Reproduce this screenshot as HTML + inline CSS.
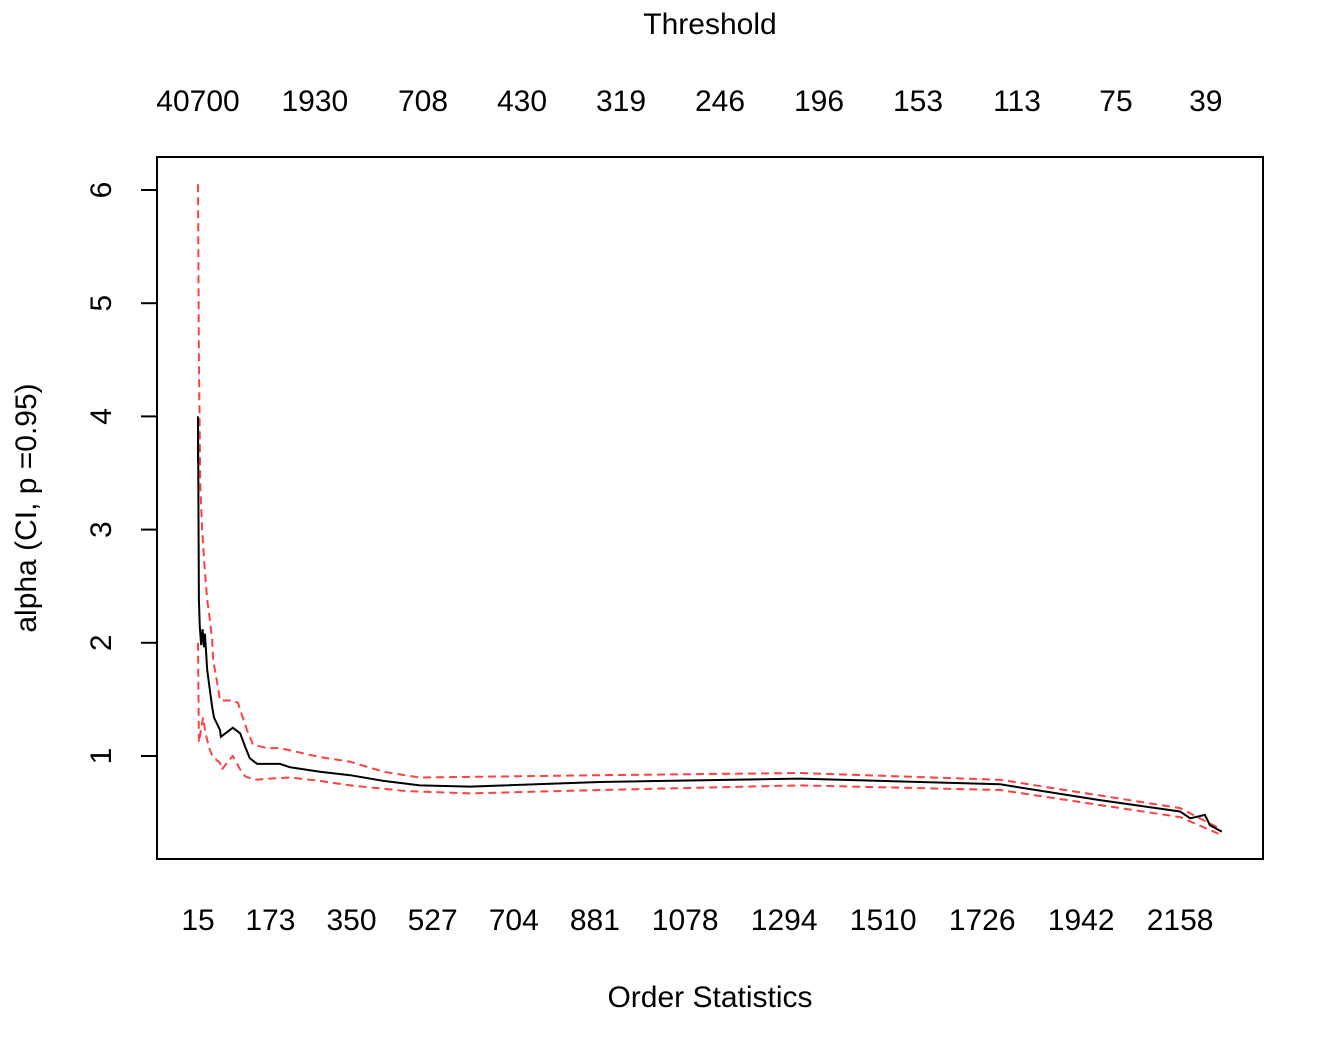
<!DOCTYPE html>
<html><head><meta charset="utf-8"><style>
html,body{margin:0;padding:0;background:#fff;}
svg text{font-family:"Liberation Sans",Arial,sans-serif;font-size:30px;fill:#000;}
</style></head><body>
<svg id="chart" width="1344" height="1056" xmlns="http://www.w3.org/2000/svg">
<rect x="0" y="0" width="1344" height="1056" fill="#fff"/>
<rect x="157" y="157" width="1106" height="702" fill="none" stroke="#000" stroke-width="2"/>
<text x="710" y="34" text-anchor="middle">Threshold</text>
<text x="710" y="1007" text-anchor="middle">Order Statistics</text>
<text transform="translate(36,508) rotate(-90)" text-anchor="middle">alpha (CI, p =0.95)</text>
<g id="marks"></g>
</svg>
<script>
const bottomTicks=[15,173,350,527,704,881,1078,1294,1510,1726,1942,2158];
const topTickK=[15,270,506,722,938,1154,1370,1586,1802,2018,2214];
const topTickLabels=["40700","1930","708","430","319","246","196","153","113","75","39"];
const yTicks=[1,2,3,4,5,6];
const estK=[15,15,17,19,22,25,28,30,32,35,41,46,50,63,65,91,107,118,128,144,194,216,281,347,420,499,608,892,1329,1765,1983,2158,2180,2212,2223,2249];
const estAlpha=[3.6,4.0,2.38,2.14,1.98,2.12,1.96,2.08,1.96,1.76,1.58,1.43,1.34,1.23,1.17,1.25,1.2,1.08,0.98,0.93,0.93,0.9,0.86,0.83,0.78,0.74,0.73,0.77,0.80,0.75,0.61,0.51,0.45,0.48,0.39,0.33];
const upK=[15,17,20,24,30,35,41,46,48,56,63,89,102,111,122,135,166,194,281,347,420,499,892,1329,1765,2158,2249];
const upAlpha=[6.05,4.5,3.4,3.0,2.63,2.38,2.2,2.02,1.85,1.67,1.49,1.49,1.47,1.36,1.23,1.1,1.07,1.07,0.99,0.95,0.86,0.81,0.83,0.85,0.79,0.54,0.35];
const loK=[15,17,26,32,41,48,63,67,80,91,107,118,139,172,216,281,347,470,608,892,1329,1765,2158,2249];
const loAlpha=[2.0,1.12,1.34,1.19,1.05,0.99,0.94,0.88,0.95,1.0,0.88,0.82,0.79,0.8,0.81,0.78,0.74,0.69,0.67,0.70,0.74,0.70,0.46,0.30];

const X=k=>198+(k-15)*0.4583;
const Y=a=>756-(a-1)*113.2;
const NS="http://www.w3.org/2000/svg";
const g=document.getElementById('marks');
function mk(tag,attrs){const e=document.createElementNS(NS,tag);for(const a in attrs)e.setAttribute(a,attrs[a]);g.appendChild(e);return e;}

bottomTicks.forEach(k=>{
  const t=mk('text',{x:X(k),y:930,'text-anchor':'middle'});t.textContent=k;
  
  
});
topTickK.forEach((k,i)=>{
  const t=mk('text',{x:X(k),y:111,'text-anchor':'middle'});t.textContent=topTickLabels[i];
  
  
});
yTicks.forEach(v=>{
  const l=mk('line',{x1:141,x2:157,y1:Y(v),y2:Y(v),stroke:'#000','stroke-width':2});
  
  
  const t=mk('text',{transform:`translate(111,${Y(v)}) rotate(-90)`,'text-anchor':'middle'});t.textContent=v;
  
  
});
function line(ks,as,color,dash,name){
  const pts=ks.map((k,i)=>X(k).toFixed(1)+','+Y(as[i]).toFixed(1)).join(' ');
  const p=mk('polyline',{points:pts,fill:'none',stroke:color,'stroke-width':2});
  if(dash)p.setAttribute('stroke-dasharray',dash);
  
  
}
line(upK,upAlpha,'#ff4040','8 5','upper-ci-line');
line(loK,loAlpha,'#ff4040','8 5','lower-ci-line');
line(estK,estAlpha,'#000',null,'alpha-estimate-line');
</script>
</body></html>
